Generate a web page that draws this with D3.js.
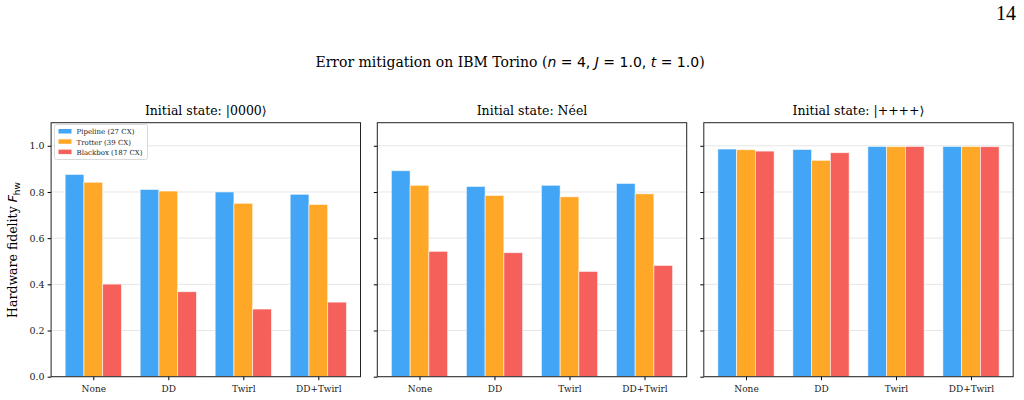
<!DOCTYPE html>
<html><head><meta charset="utf-8">
<script src="https://cdn.jsdelivr.net/npm/d3@7"></script>
<style>body{margin:0;background:#fff}svg{display:block}</style>
</head><body>
<script>
const methods = ["None", "DD", "Twirl", "DD+Twirl"];
const seriesNames = ["Pipeline (27 CX)", "Trotter (39 CX)", "Blackbox (187 CX)"];
const seriesColors = ["#42A5F5", "#FFA726", "#F5605A"];
const panelTitles = ["Initial state: |0000⟩", "Initial state: Néel", "Initial state: |++++⟩"];
const yTicks = [0, 0.2, 0.4, 0.6, 0.8, 1.0];
// values[panel][series][method]
const zeroState = [[0.876, 0.811, 0.800, 0.790], [0.842, 0.804, 0.751, 0.746], [0.401, 0.368, 0.293, 0.323]];
const neelState = [[0.892, 0.824, 0.829, 0.837], [0.829, 0.785, 0.779, 0.792], [0.543, 0.537, 0.456, 0.482]];
const plusState = [[0.986, 0.984, 0.997, 0.997], [0.983, 0.937, 0.996, 0.997], [0.977, 0.970, 0.997, 0.996]];
const panels = [zeroState, neelState, plusState];

(function () {
const W = 1024, H = 400;
const svg = d3.select("body").append("svg").attr("width", W).attr("height", H);
const serif = "'DejaVu Serif', serif";

svg.append("text").attr("x", 1016).attr("y", 20).attr("text-anchor", "end")
  .style("font-family", "'Liberation Serif', 'Times New Roman', serif").style("font-size", "20px").text("14");

const sup = svg.append("text").attr("x", 510).attr("y", 67).attr("text-anchor", "middle")
  .style("font-family", serif).style("font-size", "14px");
sup.append("tspan").text("Error mitigation on IBM Torino (");
const mi = (t) => sup.append("tspan").style("font-family", "'DejaVu Sans', sans-serif").style("font-style", "italic").text(t);
const mr = (t) => sup.append("tspan").style("font-family", "'DejaVu Sans', sans-serif").text(t);
mi("n"); mr(" = 4, "); mi("J"); mr(" = 1.0, "); mi("t"); mr(" = 1.0");
sup.append("tspan").text(")");

const plotTop = 122.7, plotBottom = 376.7, pw = 309.4;
const lefts = [51.1, 377.3, 703.8];
const y = d3.scaleLinear().domain([0, 1.1]).range([plotBottom, plotTop]);

panels.forEach((data, p) => {
  const x0 = lefts[p];
  const x = d3.scaleLinear().domain([-0.5625, 3.5625]).range([x0, x0 + pw]);
  const g = svg.append("g");
  g.selectAll(".grid").data(yTicks).join("line")
    .attr("x1", x0).attr("x2", x0 + pw).attr("y1", d => y(d)).attr("y2", d => y(d))
    .attr("stroke", "#e6e6e6").attr("stroke-width", 1);
  data.forEach((vals, s) => {
    g.selectAll(".b" + s).data(vals).join("rect")
      .attr("x", (d, i) => x(i + (s - 1) * 0.25 - 0.125))
      .attr("width", x(0.25) - x(0))
      .attr("y", d => y(d)).attr("height", d => y(0) - y(d))
      .attr("fill", seriesColors[s])
      .attr("stroke", "#fff").attr("stroke-opacity", 0.7).attr("stroke-width", 0.8);
  });
  const xa = d3.axisBottom(x).tickValues([0, 1, 2, 3]).tickFormat(i => methods[i]).tickSize(3.5).tickSizeOuter(0);
  const xg = g.append("g").attr("transform", `translate(0,${plotBottom})`).call(xa);
  xg.select(".domain").remove();
  xg.selectAll("text").style("font-family", serif).style("font-size", "9px").attr("dy", "0.95em").attr("fill", "#222");
  const ya = d3.axisLeft(y).tickValues(yTicks).tickFormat(p === 0 ? d3.format(".1f") : () => "").tickSize(3.5);
  const yg = g.append("g").attr("transform", `translate(${x0},0)`).call(ya);
  yg.select(".domain").remove();
  yg.selectAll("text").style("font-family", serif).style("font-size", "9.5px").attr("fill", "#222");
  g.append("rect").attr("x", x0).attr("y", plotTop).attr("width", pw).attr("height", plotBottom - plotTop)
    .attr("fill", "none").attr("stroke", "#222").attr("stroke-width", 1);
  g.append("text").attr("x", x0 + pw / 2).attr("y", 115).attr("text-anchor", "middle")
    .style("font-family", serif).style("font-size", "12.5px").text(panelTitles[p]);
});

const yl = svg.append("text").attr("transform", "translate(17,250) rotate(-90)").attr("text-anchor", "middle")
  .style("font-family", serif).style("font-size", "12.5px");
yl.append("tspan").text("Hardware fidelity ");
yl.append("tspan").style("font-family", "'DejaVu Sans', sans-serif").style("font-style", "italic").text("F");
yl.append("tspan").style("font-family", "'DejaVu Sans', sans-serif").style("font-size", "9px").attr("dy", 3).text("hw");

const lg = svg.append("g").attr("transform", "translate(54.5,124.5)");
lg.append("rect").attr("width", 93).attr("height", 35).attr("rx", 2).attr("fill", "#fff").attr("fill-opacity", 0.8)
  .attr("stroke", "#d0d0d0").attr("stroke-width", 0.8);
seriesNames.forEach((n, i) => {
  lg.append("rect").attr("x", 4).attr("y", 4.5 + i * 10.3).attr("width", 13).attr("height", 4.5).attr("fill", seriesColors[i]);
  lg.append("text").attr("x", 22).attr("y", 9.8 + i * 10.3).style("font-family", serif).style("font-size", "7px").attr("fill", "#222").text(n);
});
})();
</script>
</body></html>
